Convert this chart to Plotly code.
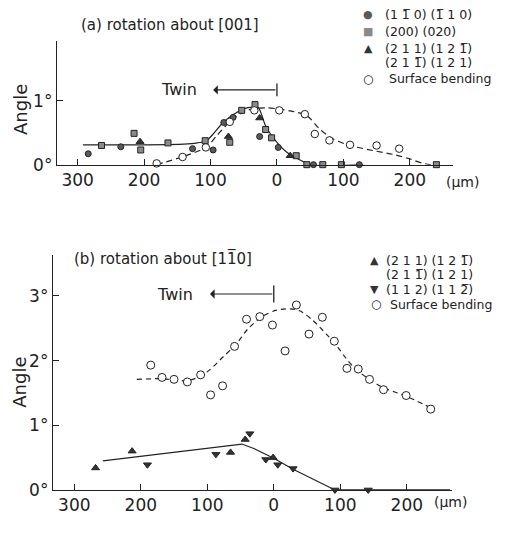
import plotly.graph_objects as go

# ---------------- data: panel (a) rotation about [001] ----------------
a_circ_x = [-284, -235, -127, -96, -80, -66, -26, 2, 55, 124]
a_circ_y = [0.17, 0.28, 0.25, 0.23, 0.66, 0.74, 0.44, 0.27, 0.0, 0.0]
a_sq_x = [-264, -215, -205, -164, -108, -71, -53, -33, -17, -8, 29, 45, 69, 97, 240]
a_sq_y = [0.30, 0.49, 0.23, 0.34, 0.375, 0.35, 0.85, 0.94, 0.55, 0.42, 0.14, 0.0, 0.0, 0.0, 0.0]
a_tri_x = [-206, -73, -26, 20]
a_tri_y = [0.36, 0.44, 0.73, 0.14]
a_open_x = [-181, -142, -107, -71, -34, 3.5, 42, 57, 79, 110, 150, 184, 222]
a_open_y = [0.02, 0.12, 0.27, 0.67, 0.85, 0.85, 0.79, 0.48, 0.38, 0.31, 0.30, 0.25, -0.02]
a_solid_x = [-292, -200, -140, -120, -106, -96, -81, -66, -51, -36, -28, -23, -18, -13, 0, 15, 32, 50, 130]
a_solid_y = [0.31, 0.31, 0.32, 0.34, 0.375, 0.48, 0.66, 0.78, 0.87, 0.90, 0.89, 0.78, 0.63, 0.53, 0.35, 0.195, 0.09, 0.0, 0.0]
a_dash_x = [-181, -143, -107, -90, -71, -50, -33, -15, 3, 25, 45, 65, 85, 110, 145, 175, 200, 220, 245]
a_dash_y = [0.0, 0.12, 0.27, 0.46, 0.67, 0.83, 0.88, 0.89, 0.87, 0.83, 0.77, 0.55, 0.40, 0.30, 0.22, 0.16, 0.09, 0.02, -0.02]

# ---------------- data: panel (b) rotation about [1-10] ----------------
b_up_x = [-268, -213, -65, -43, -1]
b_up_y = [0.34, 0.60, 0.58, 0.78, 0.50]
b_dn_x = [-190, -87, -36, -12, 6, 29, 92, 142]
b_dn_y = [0.39, 0.55, 0.87, 0.47, 0.39, 0.33, 0.0, 0.0]
b_open_x = [-185, -168, -150, -130, -110, -95, -77, -59, -41, -21, -2, 17, 34, 53, 73, 91, 110, 127, 144, 165, 199, 236]
b_open_y = [1.93, 1.74, 1.71, 1.67, 1.78, 1.47, 1.61, 2.22, 2.64, 2.68, 2.55, 2.15, 2.86, 2.41, 2.67, 2.30, 1.88, 1.87, 1.71, 1.55, 1.46, 1.25]
b_solid_x = [-257, -48, -30, -11, 0, 29, 54, 75, 92, 265]
b_solid_y = [0.45, 0.71, 0.64, 0.55, 0.49, 0.32, 0.19, 0.08, 0.0, 0.0]
b_dash_x = [-206, -170, -150, -130, -110, -96, -76, -56, -39, -16, 4, 24, 39, 59, 79, 94, 109, 124, 144, 165, 199, 236]
b_dash_y = [1.71, 1.72, 1.70, 1.69, 1.76, 1.86, 2.06, 2.26, 2.49, 2.69, 2.78, 2.80, 2.77, 2.62, 2.41, 2.24, 2.03, 1.86, 1.71, 1.58, 1.45, 1.27]

x_tickvals = [-300, -200, -100, 0, 100, 200]
x_ticktext = ["300", "200", "100", "0", "100", "200"]
a_ytickvals = [0, 1]
a_yticktext = ["0°", "1°"]
b_ytickvals = [0, 1, 2, 3]
b_yticktext = ["0°", "1°", "2°", "3°"]

OB = "1\u0305"   # 1 with overbar
TWO_B = "2\u0305"
lab_110 = f"(1 {OB} 0) ({OB} 1 0)"
lab_200 = "(200) (020)"
lab_211a = "(2 1 1) (1 2 " + OB + ")"
lab_211b = "(2 1 " + OB + ") (1 2 1)"
lab_112 = f"(1 1 2) (1 1 {TWO_B})"
lab_sb = "Surface bending"

INK = "#222222"
FONT = "DejaVu Sans"
C_CIRC = "#5a5a5a"
C_SQ = "#8a8a8a"
C_TRI = "#333333"

fig = go.Figure()

def mk(x, y, name, sym, fill, size, xa, ya):
    fig.add_trace(go.Scatter(
        x=x, y=y, mode="markers", name=name, xaxis=xa, yaxis=ya,
        showlegend=False, cliponaxis=False,
        marker=dict(symbol=sym, size=size, color=fill, line=dict(color=INK, width=1))))

def ln(x, y, dash, xa, ya, shape="spline"):
    fig.add_trace(go.Scatter(
        x=x, y=y, mode="lines", xaxis=xa, yaxis=ya, showlegend=False, cliponaxis=False,
        line=dict(color=INK, width=1.2, dash=dash, shape=shape, smoothing=0.8)))

# panel a
ln(a_solid_x, a_solid_y, "solid", "x", "y")
ln(a_dash_x, a_dash_y, "6px,4px", "x", "y")
mk(a_circ_x, a_circ_y, lab_110, "circle", C_CIRC, 6, "x", "y")
mk(a_sq_x, a_sq_y, lab_200, "square", C_SQ, 6, "x", "y")
mk(a_tri_x, a_tri_y, lab_211a, "triangle-up", C_TRI, 7, "x", "y")
mk(a_open_x, a_open_y, lab_sb, "circle", "white", 7.5, "x", "y")

# panel b
ln(b_solid_x, b_solid_y, "solid", "x2", "y2", shape="linear")
ln(b_dash_x, b_dash_y, "5px,4px", "x2", "y2")
mk(b_up_x, b_up_y, lab_211a, "triangle-up", C_TRI, 7, "x2", "y2")
mk(b_dn_x, b_dn_y, lab_112, "triangle-down", C_TRI, 7, "x2", "y2")
mk(b_open_x, b_open_y, lab_sb, "circle", "white", 8, "x2", "y2")

# page has an 8px body margin: figure is 511x525, page pixel p -> figure pixel p-8
W, H, OFF = 511, 525, 8
def px(v):
    return (v - OFF) / W
def py(v):
    return (H - (v - OFF)) / H

xcommon = dict(showline=True, linecolor=INK, linewidth=1.3, ticks="inside", ticklen=6,
               tickcolor=INK, showgrid=False, zeroline=False, tickvals=x_tickvals,
               ticktext=x_ticktext, tickfont=dict(family=FONT, size=17, color=INK))
ycommon = dict(showline=True, linecolor=INK, linewidth=1.3, ticks="inside", ticklen=6,
               tickcolor=INK, showgrid=False, zeroline=False,
               tickfont=dict(family=FONT, size=17, color=INK))

fig.update_layout(
    width=W, height=H, margin=dict(l=0, r=0, t=0, b=0),
    paper_bgcolor="white", plot_bgcolor="white", showlegend=False,
    font=dict(family=FONT, color=INK),
    xaxis=dict(domain=[px(57), px(453)], range=[-331, 265], anchor="y", **xcommon),
    yaxis=dict(domain=[py(167.7), py(42)], range=[0, 1.93], anchor="x",
               tickvals=a_ytickvals, ticktext=a_yticktext, **ycommon),
    xaxis2=dict(domain=[px(53), px(452)], range=[-332, 268], anchor="y2", **xcommon),
    yaxis2=dict(domain=[py(499.3), py(260)], range=[0, 3.63], anchor="x2",
                tickvals=b_ytickvals, ticktext=b_yticktext, **ycommon),
)

ann = []
def txt(s, x, y, size, xanchor="left", color=INK, **kw):
    ann.append(dict(text=s, xref="paper", yref="paper", x=px(x), y=py(y), xanchor=xanchor,
                    yanchor="middle", showarrow=False, borderpad=0,
                    font=dict(size=size, color=color, family=FONT), **kw))

txt("(a) rotation about [001]", 80, 25, 15)
txt(f"(b) rotation about [1{OB}0]", 73, 263, 15)
txt("Angle", 20, 112, 18, xanchor="center", textangle=-90)
txt("Angle", 20, 390, 18, xanchor="center", textangle=-90)
txt("(μm)", 445, 185, 14)
txt("(μm)", 433, 512, 14)

# legend (a)
LF = 12.5
txt("●", 368, 15, 11, xanchor="center", color=C_CIRC)
txt(lab_110, 384, 15, LF)
txt("■", 368, 32, 11, xanchor="center", color=C_SQ)
txt(lab_200, 384, 32, LF)
txt("▲", 368, 49, 11, xanchor="center", color=C_TRI)
txt(lab_211a, 384, 49, LF)
txt(lab_211b, 384, 64, LF)
txt("○", 368, 80, 12, xanchor="center")
txt(lab_sb, 388, 80, LF)
# legend (b)
txt("▲", 374, 265, 11, xanchor="center", color=C_TRI)
txt(lab_211a, 385, 265, LF)
txt(lab_211b, 385, 280, LF)
txt("▼", 374, 295, 11, xanchor="center", color=C_TRI)
txt(lab_112, 385, 295, LF)
txt("○", 376, 310, 12, xanchor="center")
txt(lab_sb, 389, 310, LF)

# twin arrows
for xa, ya, yv, dy in (("x", "y", 1.17, 0.1), ("x2", "y2", 3.03, 0.13)):
    ann.append(dict(text="", xref=xa, yref=ya, x=-96, y=yv, axref=xa, ayref=ya, ax=0, ay=yv,
                    showarrow=True, arrowhead=1, arrowsize=1.3, arrowwidth=1.2, arrowcolor=INK))
    ann.append(dict(text="Twin", xref=xa, yref=ya, x=-148, y=yv, showarrow=False,
                    font=dict(size=16, family=FONT, color=INK), xanchor="center", yanchor="middle"))
    fig.add_shape(type="line", xref=xa, yref=ya, x0=0, x1=0, y0=yv - dy, y1=yv + dy,
                  line=dict(color=INK, width=1.3))
fig.update_layout(annotations=ann)

fig.write_html("out.html")
